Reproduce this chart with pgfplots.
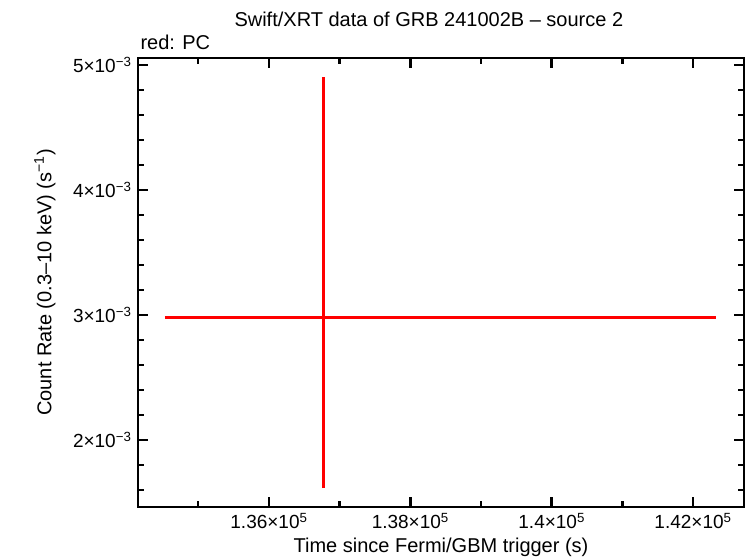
\documentclass[border=0pt]{standalone}
\usepackage{fontspec}
\setmainfont{Liberation Sans}
\usepackage{pgfplots}
\pgfplotsset{compat=1.18}
\begin{document}
\begin{tikzpicture}
\path[use as bounding box] (-138pt,-51pt) rectangle (608pt,507pt);
\begin{axis}[
  at={(0pt,0pt)}, anchor=south west,
  scale only axis, width=606pt, height=449pt,
  xmin=134147, xmax=142721,
  ymin=1.464e-3, ymax=5.056e-3,
  axis line style={line width=2.6pt},
  every tick/.style={black, line width=2.4pt},
  major tick length=10pt, minor tick length=6pt,
  tick align=inside, xtick pos=both, ytick pos=both,
  xtick={136000,138000,140000,142000},
  xticklabels={1.36×10\textsuperscript{5},1.38×10\textsuperscript{5},1.4×10\textsuperscript{5},1.42×10\textsuperscript{5}},
  minor xtick={135000,137000,139000,141000},
  ytick={0.002,0.003,0.004,0.005},
  yticklabels={2×10\textsuperscript{−3},3×10\textsuperscript{−3},4×10\textsuperscript{−3},5×10\textsuperscript{−3}},
  minor ytick={0.0016,0.0018,0.0022,0.0024,0.0026,0.0028,0.0032,0.0034,0.0036,0.0038,0.0042,0.0044,0.0046,0.0048,0.005},
  scaled ticks=false,
  ticklabel style={font=\fontsize{19}{22}\selectfont},
  xticklabel style={yshift=-3pt},
  yticklabel style={xshift=-3pt},
  label style={font=\fontsize{20}{23}\selectfont},
  xlabel={Time since Fermi/GBM trigger (s)},
  xlabel style={at={(axis description cs:0.5,-0.089)}, anchor=center},
  ylabel={Count Rate (0.3–10 keV) (s\textsuperscript{−1})},
  ylabel style={at={(axis description cs:-0.1535,0.5)}, anchor=center},
  clip=false,
]
\addplot[draw=red, color=red, line width=3pt, mark=none, forget plot] coordinates {(134529,0.002979) (138000,0.002979) (142325,0.002979)};
\addplot[draw=red, color=red, line width=3pt, mark=none, forget plot] coordinates {(136778,0.001616) (136778,0.004904)};
\node[font=\fontsize{20}{23}\selectfont, anchor=base] at (axis description cs:0.48,1) [yshift=31pt] {Swift/XRT data of GRB 241002B – source 2};
\node[font=\fontsize{20}{23}\selectfont, anchor=base west] at (axis description cs:0,1) [yshift=8pt, xshift=-1pt] {red: PC};
\end{axis}
\end{tikzpicture}
\end{document}
